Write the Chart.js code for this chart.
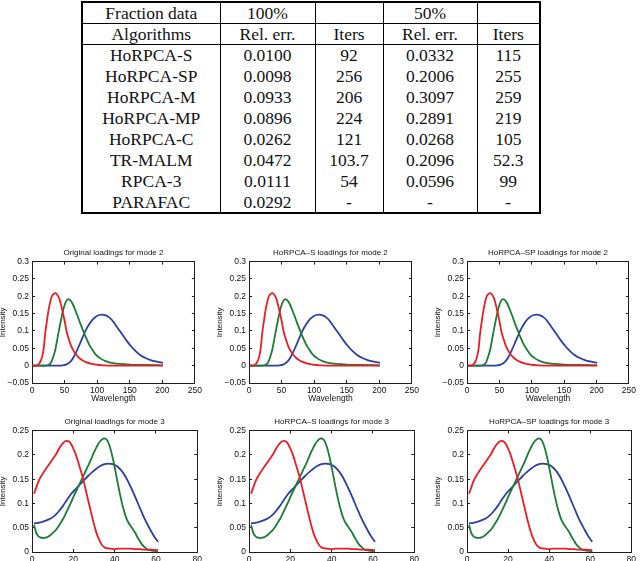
<!DOCTYPE html>
<html>
<head>
<meta charset="utf-8">
<script src="https://cdn.jsdelivr.net/npm/chart.js@4/dist/chart.umd.min.js"></script>
<style>
    html, body { margin: 0; padding: 0; background: #fff; }
    body { width: 640px; height: 561px; position: relative; overflow: hidden; }
    #results {
        position: absolute; left: 81px; top: 1px; width: 458px;
        border-collapse: collapse; table-layout: fixed;
        font-family: "Liberation Serif", serif; font-size: 17.5px; color: #111;
        border: 2px solid #000;
    }
    #results td { padding: 0; text-align: center; border-left: 1px solid #000; border-right: 1px solid #000; height: 20.9px; line-height: 18px; }
    #results tr.head td { border-bottom: 1px solid #000; height: 20px; }
    .panel { position: absolute; }
</style>
</head>
<body>
<table id="results"></table>

<script>
// table contents
const headRow1 = ["Fraction data", "100%", "", "50%", ""];
const headRow2 = ["Algorithms", "Rel. err.", "Iters", "Rel. err.", "Iters"];
const algorithms = ["HoRPCA-S", "HoRPCA-SP", "HoRPCA-M", "HoRPCA-MP", "HoRPCA-C", "TR-MALM", "RPCA-3", "PARAFAC"];
const relErr100 = ["0.0100", "0.0098", "0.0933", "0.0896", "0.0262", "0.0472", "0.0111", "0.0292"];
const iters100 = ["92", "256", "206", "224", "121", "103.7", "54", "-"];
const relErr50 = ["0.0332", "0.2006", "0.3097", "0.2891", "0.0268", "0.2096", "0.0596", "-"];
const iters50 = ["115", "255", "259", "219", "105", "52.3", "99", "-"];
const colWidths = [138, 95, 68, 94, 63];

// loadings, mode 2 (wavelength 1..201)
const mode2Red = [[1,0],[8,0.001],[10,0.004],[13,0.012],[15,0.022],[18,0.05],[20,0.089],[23,0.13],[25,0.156],[28,0.184],[30,0.198],[33,0.206],[36,0.209],[39,0.204],[42,0.193],[45,0.172],[48,0.147],[51,0.12],[53,0.099],[57,0.074],[60,0.057],[65,0.039],[70,0.027],[76,0.017],[83,0.01],[90,0.006],[98,0.003],[110,0.001],[130,0],[201,0]];
const mode2Green = [[1,0],[20,0],[25,0.002],[28,0.006],[30,0.012],[33,0.028],[36,0.048],[39,0.078],[42,0.108],[45,0.136],[48,0.162],[51,0.18],[54,0.19],[56,0.192],[59,0.188],[62,0.18],[66,0.162],[70,0.143],[74,0.122],[78,0.103],[83,0.08],[88,0.06],[93,0.045],[98,0.032],[105,0.021],[113,0.013],[122,0.008],[134,0.005],[150,0.003],[170,0.002],[201,0.001]];
const mode2Blue = [[1,0],[40,0],[47,0.001],[52,0.003],[56,0.007],[60,0.014],[64,0.025],[68,0.04],[73,0.061],[78,0.083],[83,0.104],[88,0.12],[93,0.133],[98,0.141],[103,0.146],[108,0.147],[113,0.145],[118,0.14],[123,0.131],[128,0.118],[134,0.102],[140,0.086],[146,0.07],[152,0.056],[159,0.042],[166,0.031],[174,0.022],[182,0.016],[190,0.012],[201,0.008]];

// loadings, mode 3 (1..61)
const mode3Red = [[1,0.12],[2,0.132],[3,0.144],[4,0.153],[5,0.16],[6,0.167],[7,0.173],[8,0.179],[9,0.185],[10,0.191],[11,0.197],[12,0.204],[13,0.212],[14,0.219],[15,0.224],[16,0.228],[17,0.229],[18,0.227],[19,0.222],[20,0.213],[21,0.203],[22,0.19],[23,0.176],[24,0.162],[25,0.146],[26,0.128],[27,0.11],[28,0.092],[29,0.074],[30,0.057],[31,0.042],[32,0.03],[33,0.021],[34,0.014],[35,0.01],[36,0.008],[38,0.007],[40,0.006],[42,0.007],[44,0.007],[46,0.007],[48,0.007],[50,0.006],[52,0.006],[54,0.005],[56,0.005],[58,0.005],[60,0.004],[61,0.004]];
const mode3Green = [[1,0.056],[2,0.04],[3,0.033],[4,0.03],[5,0.029],[6,0.029],[7,0.03],[8,0.032],[9,0.035],[10,0.039],[11,0.043],[12,0.048],[13,0.054],[14,0.061],[15,0.068],[16,0.076],[17,0.085],[18,0.094],[19,0.103],[20,0.113],[21,0.122],[22,0.131],[23,0.14],[24,0.149],[25,0.158],[26,0.167],[27,0.176],[28,0.185],[29,0.195],[30,0.205],[31,0.214],[32,0.222],[33,0.228],[34,0.232],[35,0.234],[36,0.232],[37,0.225],[38,0.212],[39,0.195],[40,0.175],[41,0.153],[42,0.131],[43,0.111],[44,0.093],[45,0.078],[46,0.066],[47,0.058],[48,0.052],[49,0.046],[50,0.039],[51,0.031],[52,0.024],[53,0.017],[54,0.012],[55,0.008],[56,0.005],[58,0.003],[61,0.002]];
const mode3Blue = [[1,0.059],[3,0.06],[5,0.062],[7,0.065],[9,0.069],[11,0.075],[13,0.084],[15,0.095],[17,0.108],[19,0.12],[21,0.129],[23,0.138],[25,0.147],[27,0.156],[29,0.164],[31,0.171],[33,0.177],[35,0.181],[37,0.182],[39,0.181],[41,0.177],[43,0.169],[45,0.157],[47,0.141],[49,0.123],[51,0.103],[53,0.083],[55,0.064],[57,0.048],[59,0.033],[61,0.021]];

const methods = ["Original", "HoRPCA\u2013S", "HoRPCA\u2013SP"];
const axisMode2 = { xMax: 250, xStep: 50, yMin: -0.05, yMax: 0.3 };
const axisMode3 = { xMax: 80, xStep: 20, yMin: 0, yMax: 0.25 };

// build the table
const table = document.getElementById("results");
const cg = document.createElement("colgroup");
colWidths.forEach(w => { const c = document.createElement("col"); c.style.width = w + "px"; cg.appendChild(c); });
table.appendChild(cg);
function addRow(cells, cls) {
    const tr = document.createElement("tr");
    if (cls) tr.className = cls;
    cells.forEach(t => { const td = document.createElement("td"); td.textContent = t; tr.appendChild(td); });
    table.appendChild(tr);
}
addRow(headRow1, "head");
addRow(headRow2, "head");
algorithms.forEach((a, i) => addRow([a, relErr100[i], iters100[i], relErr50[i], iters50[i]]));

const plotLefts = [32, 249, 467];
const plotRights = [198, 415, 632];
const plotTops = [262, 431];
const plotBottoms = [383, 552];
const yAxisW = 34, xAxisH = 21, padRight = 10;
const frameColor = "#1e1e1e";
const titleFont = { family: "Liberation Sans", size: 8, weight: "normal" };
const tickFont = { family: "Liberation Sans", size: 8.5 };
const titlePad = { top: 2, bottom: 4 };

const fmt = v => String(Number(v.toFixed(2))).replace("-", "\u2212");

// inward tick marks and frame, drawn by the scales themselves
const boxGrid = { display: true, drawOnChartArea: false, drawTicks: true, tickLength: -3, color: frameColor, lineWidth: 1 };
const boxBorder = { display: true, color: frameColor, width: 1 };

function makePanel(row, col) {
    const mode = row === 0 ? 2 : 3;
    const ax = row === 0 ? axisMode2 : axisMode3;
    const series = row === 0 ? [mode2Red, mode2Green, mode2Blue] : [mode3Red, mode3Green, mode3Blue];
    const L = plotLefts[col], R = plotRights[col], T = plotTops[row], B = plotBottoms[row];
    const titleH = titlePad.top + titleFont.size * 1.2 + titlePad.bottom;
    const w = yAxisW + (R - L) + padRight;
    const h = Math.round(titleH + (B - T) + xAxisH);

    const div = document.createElement("div");
    div.className = "panel";
    div.style.left = (L - yAxisW) + "px";
    div.style.top = Math.round(T - titleH) + "px";
    const canvas = document.createElement("canvas");
    canvas.width = w; canvas.height = h;
    canvas.style.width = w + "px"; canvas.style.height = h + "px";
    div.appendChild(canvas);
    document.body.appendChild(div);

    const colors = ["#ec1c24", "#1b7b35", "#2b3ea6"];
    new Chart(canvas, {
        type: "line",
        data: {
            datasets: series.map((s, i) => ({
                data: s.map(p => ({ x: p[0], y: p[1] })),
                borderColor: colors[i],
                borderWidth: 1.8,
                pointRadius: 0,
                fill: false,
                cubicInterpolationMode: "monotone"
            }))
        },
        options: {
            responsive: false,
            animation: false,
            devicePixelRatio: 1,
            layout: { padding: { left: 0, right: padRight, top: 0, bottom: 0 } },
            plugins: {
                legend: { display: false },
                tooltip: { enabled: false },
                title: {
                    display: true,
                    text: methods[col] + " loadings for mode " + mode,
                    fullSize: false,
                    color: "#111",
                    font: titleFont,
                    padding: titlePad
                }
            },
            scales: {
                x: {
                    type: "linear", position: "bottom",
                    min: 0, max: ax.xMax,
                    grid: boxGrid, border: boxBorder,
                    ticks: { stepSize: ax.xStep, color: "#111", font: tickFont, padding: 6, maxRotation: 0, autoSkip: false, callback: fmt },
                    title: { display: true, text: "Wavelength", color: "#111", font: tickFont, padding: 0 },
                    afterFit: s => { s.height = xAxisH; }
                },
                y: {
                    type: "linear", position: "left",
                    min: ax.yMin, max: ax.yMax,
                    grid: boxGrid, border: boxBorder,
                    ticks: { stepSize: 0.05, color: "#111", font: tickFont, padding: 6, autoSkip: false, callback: fmt },
                    title: { display: true, text: "Intensity", color: "#111", font: { family: "Liberation Sans", size: 8 }, padding: 0 },
                    afterFit: s => { s.width = yAxisW; }
                },
                xTop: {
                    type: "linear", position: "top",
                    min: 0, max: ax.xMax,
                    grid: boxGrid, border: boxBorder,
                    ticks: { stepSize: ax.xStep, display: false, autoSkip: false },
                    afterFit: s => { s.height = 0; }
                },
                yRight: {
                    type: "linear", position: "right",
                    min: ax.yMin, max: ax.yMax,
                    grid: boxGrid, border: boxBorder,
                    ticks: { stepSize: 0.05, display: false, autoSkip: false },
                    afterFit: s => { s.width = 0; }
                }
            }
        }
    });
}

for (let r = 0; r < 2; r++) {
    for (let c = 0; c < 3; c++) makePanel(r, c);
}
</script>
</body>
</html>
